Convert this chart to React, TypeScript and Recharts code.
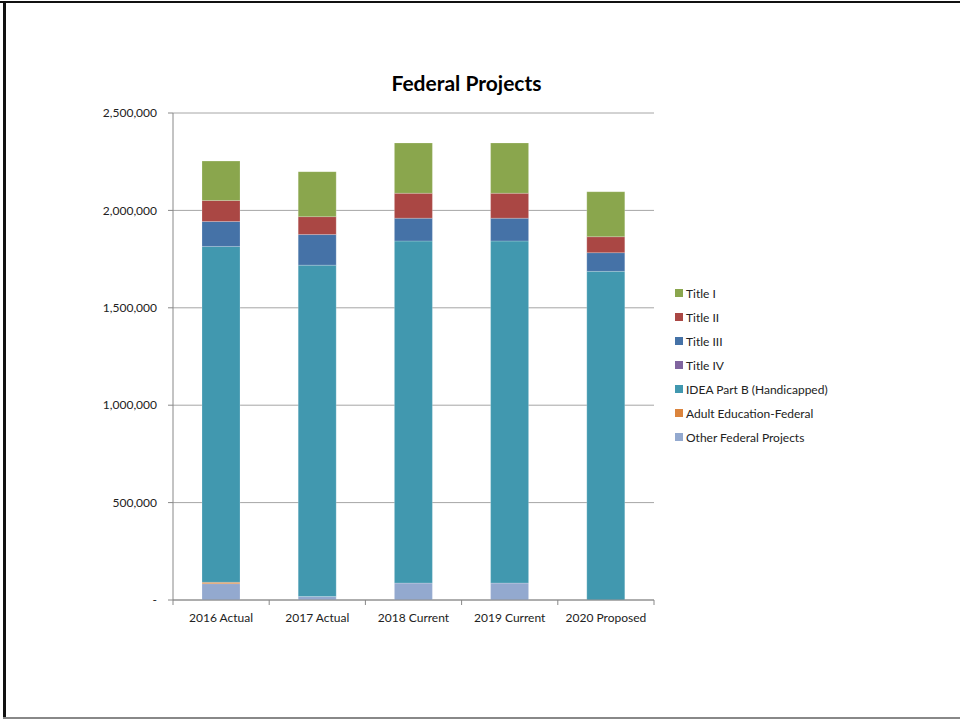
import { BarChart, Bar, XAxis, YAxis, CartesianGrid } from "recharts";

// Federal project funding by year, stacked from the bottom up
const categories = [
  "2016 Actual",
  "2017 Actual",
  "2018 Current",
  "2019 Current",
  "2020 Proposed",
];

const otherFederal = [84000, 18000, 87000, 87000, 0];
const adultEducation = [7000, 0, 0, 0, 0];
const ideaPartB = [1724000, 1701000, 1756000, 1756000, 1687000];
const titleIV = [0, 0, 0, 0, 0];
const titleIII = [128000, 157000, 117000, 117000, 96000];
const titleII = [108000, 92000, 128000, 128000, 82000];
const titleI = [202000, 231000, 258000, 258000, 231000];

const yTicks = [0, 500000, 1000000, 1500000, 2000000, 2500000];

const SERIES = [
  { key: "other", name: "Other Federal Projects", color: "#93A9CF", values: otherFederal },
  { key: "adult", name: "Adult Education-Federal", color: "#DB843D", values: adultEducation },
  { key: "idea", name: "IDEA Part B (Handicapped)", color: "#4198AF", values: ideaPartB },
  { key: "t4", name: "Title IV", color: "#80649F", values: titleIV },
  { key: "t3", name: "Title III", color: "#4572A7", values: titleIII },
  { key: "t2", name: "Title II", color: "#AA4744", values: titleII },
  { key: "t1", name: "Title I", color: "#8AA64D", values: titleI },
];

const FONT = "Lato, 'Open Sans', sans-serif";
const CHART_W = 960;
const CHART_H = 719;
const PLOT_LEFT = 173;
const PLOT_RIGHT = 654;
const BAND = (PLOT_RIGHT - PLOT_LEFT) / categories.length;

const data = categories.map((name, i) => {
  const row: Record<string, string | number> = { name };
  SERIES.forEach((s) => {
    row[s.key] = s.values[i];
  });
  return row;
});

const fmt = (v: number) => (v === 0 ? "-" : v.toLocaleString("en-US"));

// category label plus Excel-style tick marks on the band edges
const XTick = (props: any) => {
  const { x, y, payload, index } = props;
  const left = x - BAND / 2;
  const right = x + BAND / 2;
  return (
    <g>
      <line x1={left} y1={y - 8} x2={left} y2={y - 3} stroke="#888" />
      {index === categories.length - 1 && (
        <line x1={right} y1={y - 8} x2={right} y2={y - 3} stroke="#888" />
      )}
      <text
        x={x}
        y={y + 14}
        textAnchor="middle"
        fontSize={12}
        fontFamily={FONT}
        fill="#222"
      >
        {payload.value}
      </text>
    </g>
  );
};

export default function App() {
  return (
    <div
      style={{
        position: "absolute",
        left: 0,
        top: 0,
        width: CHART_W,
        height: CHART_H,
        background: "#fff",
        fontFamily: FONT,
      }}
    >
      {/* frame */}
      <div style={{ position: "absolute", left: 0, top: 1, width: 960, height: 2, background: "#111" }} />
      <div style={{ position: "absolute", left: 3, top: 1, width: 3, height: 718, background: "#111" }} />
      <div style={{ position: "absolute", left: 3, top: 717, width: 957, height: 2, background: "#888" }} />

      <div
        style={{
          position: "absolute",
          left: 0,
          width: 933,
          top: 70,
          textAlign: "center",
          fontSize: 21,
          fontWeight: 700,
          color: "#000",
        }}
      >
        Federal Projects
      </div>

      <BarChart
        width={CHART_W}
        height={CHART_H}
        data={data}
        margin={{ top: 113, right: CHART_W - PLOT_RIGHT, bottom: 89, left: 0 }}
        barSize={38}
        style={{ position: "absolute", left: 0, top: 0 }}
      >
        <CartesianGrid vertical={false} stroke="#a6a6a6" />
        <XAxis
          dataKey="name"
          stroke="#888"
          tickLine={false}
          tick={<XTick />}
          interval={0}
          height={30}
        />
        <YAxis
          width={PLOT_LEFT}
          domain={[0, 2500000]}
          ticks={yTicks}
          tickFormatter={fmt}
          stroke="#888"
          tickSize={5}
          tickMargin={11}
          tick={{ fontSize: 12, fontFamily: FONT, fill: "#222" }}
        />
        {SERIES.map((s) => (
          <Bar
            key={s.key}
            dataKey={s.key}
            name={s.name}
            stackId="a"
            fill={s.color}
            stroke="rgba(255,255,255,0.35)"
            strokeWidth={0.6}
            isAnimationActive={false}
          />
        ))}
      </BarChart>

      {/* legend, top series first */}
      <div style={{ position: "absolute", left: 675, top: 281 }}>
        {[...SERIES].reverse().map((s) => (
          <div
            key={s.key}
            style={{ display: "flex", alignItems: "center", height: 24, fontSize: 12, color: "#222" }}
          >
            <span style={{ width: 8, height: 8, background: s.color, marginRight: 3, display: "inline-block" }} />
            <span>{s.name}</span>
          </div>
        ))}
      </div>
    </div>
  );
}
